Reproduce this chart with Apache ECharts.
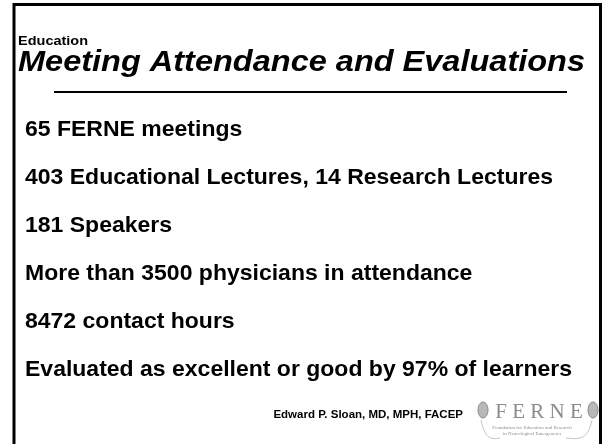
<!DOCTYPE html>
<html>
  <head>
    <meta charset="utf-8" />
    <title></title>
    <style>
      body {
        margin: 0;
        padding: 0;
        background: #fff;
      }
      #main {
        width: 604px;
        height: 444px;
      }
    </style>
    <script src="https://cdn.jsdelivr.net/npm/echarts@6/dist/echarts.min.js"></script>
  </head>
  <body>
    <div id="main"></div>
  </body>
  <script>
    // slide texts
    const section = "Education";
    const heading = "Meeting Attendance and Evaluations";
    const bullets = [
      "65 FERNE meetings",
      "403 Educational Lectures, 14 Research Lectures",
      "181 Speakers",
      "More than 3500 physicians in attendance",
      "8472 contact hours",
      "Evaluated as excellent or good by 97% of learners",
    ];
    const footer = "Edward P. Sloan, MD, MPH, FACEP";
    const logoWord = "FERNE";
    const logoLines = [
      "Foundation for Education and Research",
      "in Neurological Emergencies",
    ];

    const font = "Liberation Sans, Arial, sans-serif";
    const grey = "#8c8c8c";
    // the slide text is a touch wider than it is tall
    const squash = 0.93;

    let graphics = [];

    // frame: left, top and right edges only
    graphics.push({
      type: "polyline",
      shape: { points: [[14, 460], [14, 4.5], [600.5, 4.5], [600.5, 460]] },
      style: { stroke: "#000", lineWidth: 3, fill: null },
    });

    graphics.push({
      type: "text",
      x: 18,
      y: 41,
      scaleY: squash,
      style: {
        text: section,
        font: "bold 14.5px " + font,
        fill: "#000",
        verticalAlign: "middle",
      },
    });

    graphics.push({
      type: "text",
      x: 18,
      y: 63,
      scaleY: squash,
      style: {
        text: heading,
        font: "italic bold 32.5px " + font,
        fill: "#000",
        verticalAlign: "middle",
      },
    });

    graphics.push({
      type: "line",
      shape: { x1: 54, y1: 92, x2: 567, y2: 92 },
      style: { stroke: "#000", lineWidth: 2 },
    });

    bullets.forEach((t, i) => {
      graphics.push({
        type: "text",
        x: 25,
        y: 130 + i * 48,
        scaleY: squash,
        style: {
          text: t,
          font: "bold 23px " + font,
          fill: "#000",
          verticalAlign: "middle",
        },
      });
    });

    graphics.push({
      type: "text",
      x: 463,
      y: 415,
      scaleY: squash,
      style: {
        text: footer,
        font: "bold 11.5px " + font,
        fill: "#000",
        align: "right",
        verticalAlign: "middle",
      },
    });

    // logo
    graphics.push({
      type: "text",
      x: 539,
      y: 412,
      style: {
        text: logoWord.split("").join(" "),
        font: "21px 'Liberation Serif', 'DejaVu Serif', serif",
        fill: grey,
        align: "center",
        verticalAlign: "middle",
      },
    });
    logoLines.forEach((t, i) => {
      graphics.push({
        type: "text",
        x: 532,
        y: 428 + i * 6,
        style: {
          text: t,
          font: "5px 'Liberation Serif', serif",
          fill: grey,
          align: "center",
          verticalAlign: "middle",
        },
      });
    });
    // leaf ornaments either side of the logo word
    [483, 593].forEach((cx) => {
      graphics.push({
        type: "ellipse",
        shape: { cx: cx, cy: 410, rx: 5, ry: 8 },
        style: { fill: "#b8b8b8", stroke: grey, lineWidth: 1 },
      });
    });
    graphics.push({
      type: "bezierCurve",
      shape: { x1: 481, y1: 420, cpx1: 485, cpy1: 438, x2: 500, y2: 438, cpx2: 490, cpy2: 440 },
      style: { stroke: "#c4c4c4", lineWidth: 1, fill: null },
    });
    graphics.push({
      type: "bezierCurve",
      shape: { x1: 592, y1: 420, cpx1: 588, cpy1: 438, x2: 566, y2: 438, cpx2: 582, cpy2: 440 },
      style: { stroke: "#c4c4c4", lineWidth: 1, fill: null },
    });

    let myChart = echarts.init(document.getElementById("main"));
    myChart.setOption({
      backgroundColor: "#fff",
      animation: false,
      graphic: graphics,
    });
  </script>
</html>
